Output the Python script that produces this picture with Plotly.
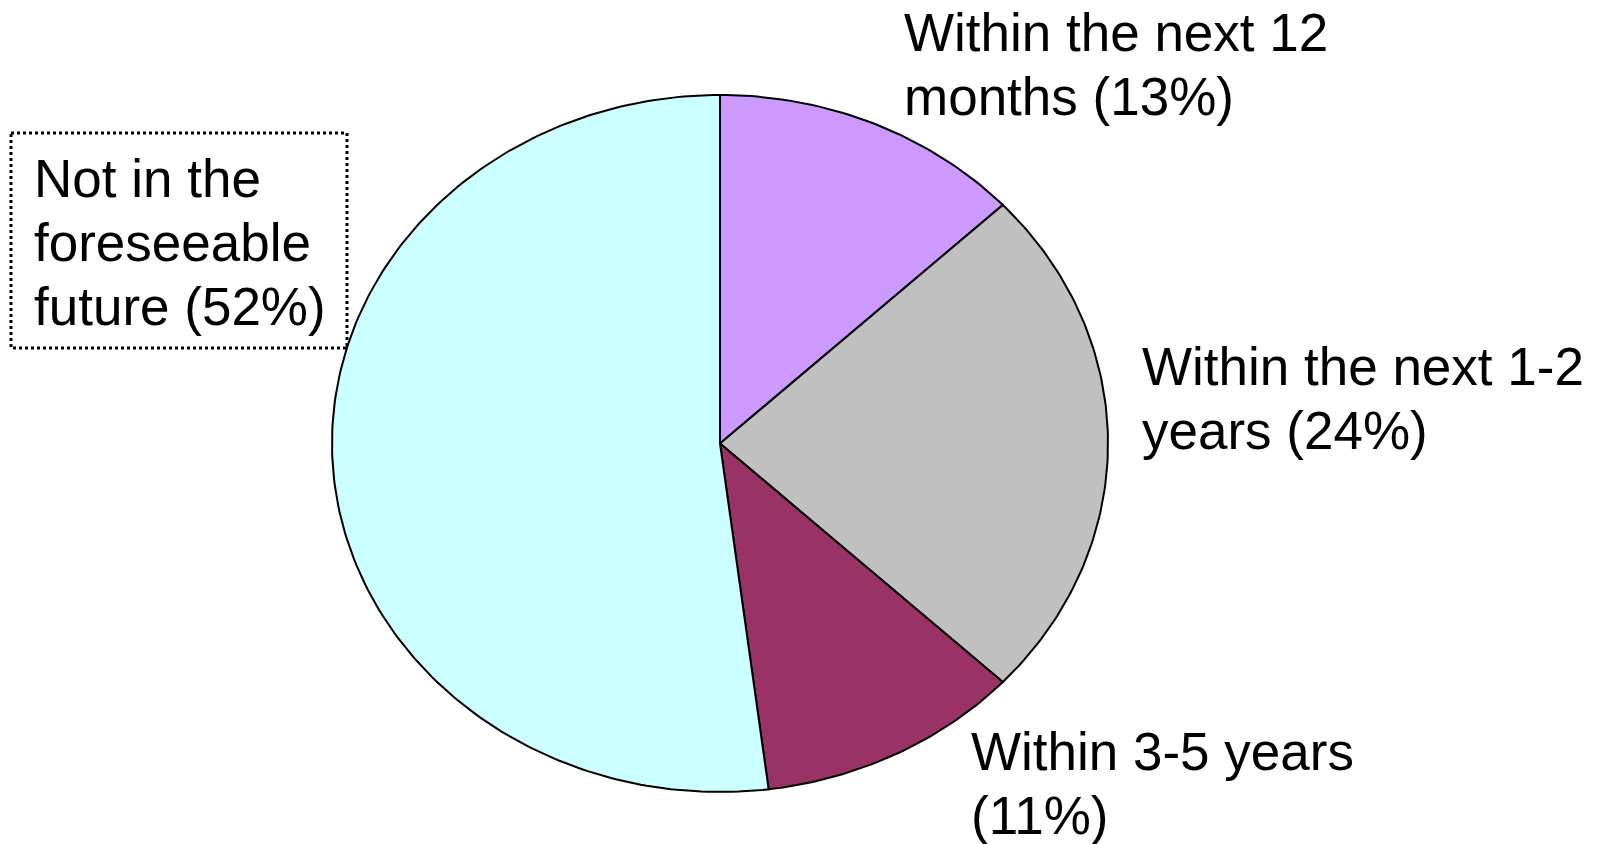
import numpy as np
import plotly.graph_objects as go

# Data
categories = ["Within the next 12 months", "Within the next 1-2 years",
              "Within 3-5 years", "Not in the foreseeable future"]
values = [13, 24, 11, 52]
colors = ["#CC99FF", "#C0C0C0", "#993366", "#CCFFFF"]
label_lines = [
    ["Within the next 12", "months (13%)"],
    ["Within the next 1-2", "years (24%)"],
    ["Within 3-5 years", "(11%)"],
    ["Not in the", "foreseeable", "future (52%)"],
]

# Layout of the (elliptical) pie in pixel space
W, H = 1602, 844
cx, cy, rx, ry = 720, 443.5, 388, 348.5
label_pos = [(903, 52), (1141, 386), (970, 771), (33, 198)]  # left x, first baseline
FS = 53
LS = 64

fig = go.Figure()
total = sum(values)
start = 0.0
for cat, v, col in zip(categories, values, colors):
    a0 = start / total * 2 * np.pi
    a1 = (start + v) / total * 2 * np.pi
    t = np.linspace(a0, a1, max(int(v * 4), 10))
    xs = np.concatenate([[cx], cx + rx * np.sin(t), [cx]])
    ys = np.concatenate([[cy], cy - ry * np.cos(t), [cy]])
    fig.add_trace(go.Scatter(x=xs, y=ys, mode="lines", fill="toself",
                             fillcolor=col, line=dict(color="black", width=2),
                             name=cat, hoverinfo="name"))
    start += v

for lines, (lx, by) in zip(label_lines, label_pos):
    for i, ln in enumerate(lines):
        fig.add_annotation(x=lx, y=by + i * LS - 0.36 * FS, text=ln,
                           xanchor="left", yanchor="middle", showarrow=False,
                           font=dict(family="Liberation Sans, Arial", size=FS, color="black"),
                           xref="x", yref="y", borderpad=0)

fig.add_shape(type="rect", x0=11, y0=133, x1=347, y1=348,
              line=dict(color="black", width=3, dash="dot"), xref="x", yref="y")

fig.update_layout(
    width=W, height=H, margin=dict(l=0, r=0, t=0, b=0),
    plot_bgcolor="white", paper_bgcolor="white", showlegend=False,
    xaxis=dict(range=[0, W], visible=False, fixedrange=True),
    yaxis=dict(range=[H, 0], visible=False, fixedrange=True),
)
fig.write_html("out.html", post_script="document.body.style.margin='0';",
               config={"displayModeBar": False})
